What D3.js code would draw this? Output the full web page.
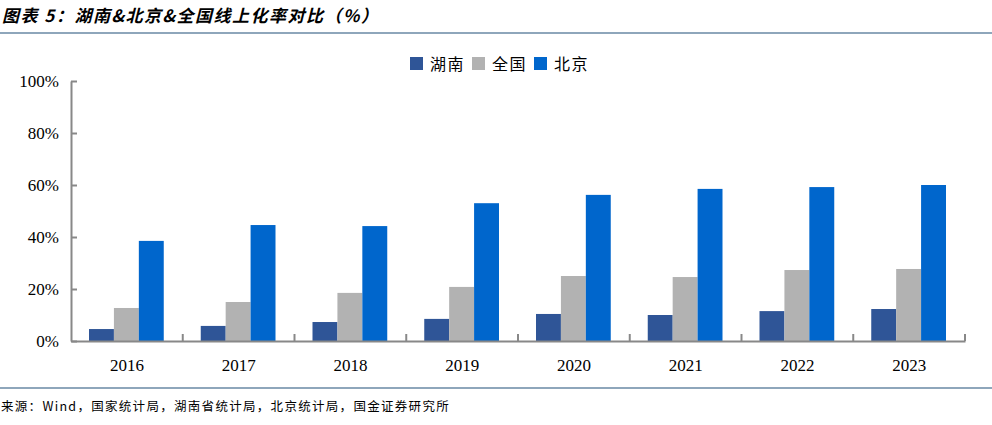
<!DOCTYPE html>
<html>
<head>
<meta charset="utf-8">
<script src="https://cdn.jsdelivr.net/npm/d3@7"></script>
<style>
  body { margin: 0; background: #fff; }
  svg { display: block; }
</style>
</head>
<body>
<div id="chart"></div>
<script>
const years = ["2016", "2017", "2018", "2019", "2020", "2021", "2022", "2023"];
const seriesNames = ["湖南", "全国", "北京"];
const hunan = [4.6, 5.8, 7.3, 8.5, 10.4, 10.0, 11.5, 12.3];
const national = [12.7, 15.0, 18.5, 20.8, 25.0, 24.6, 27.3, 27.7];
const beijing = [38.5, 44.6, 44.2, 53.0, 56.2, 58.5, 59.2, 60.0];
const yTicks = [0, 20, 40, 60, 80, 100];
const colors = ["#2F5597", "#B2B2B2", "#0066CC"];

const W = 992, H = 425;
const margin = { top: 81, right: 27, bottom: 84, left: 71 };
const width = W - margin.left - margin.right;
const height = H - margin.top - margin.bottom;

const svg = d3.select("#chart").append("svg").attr("width", W).attr("height", H);

// title
svg.append("text")
  .attr("x", 2).attr("y", 22)
  .attr("font-family", "Noto Sans CJK SC")
  .attr("font-size", 17).attr("font-weight", "bold").attr("font-style", "italic")
  .attr("letter-spacing", 1.5)
  .text("图表 5：湖南&北京&全国线上化率对比（%）");
svg.append("line").attr("x1", 0).attr("x2", W).attr("y1", 33).attr("y2", 33)
  .attr("stroke", "#1F4E79").attr("stroke-width", 1.2);

// source
svg.append("line").attr("x1", 0).attr("x2", W).attr("y1", 388).attr("y2", 388)
  .attr("stroke", "#1F4E79").attr("stroke-width", 1.2);
svg.append("text")
  .attr("x", 1).attr("y", 411)
  .attr("font-family", "Noto Sans CJK SC").attr("font-size", 12.5)
  .attr("letter-spacing", 1.3)
  .text("来源：Wind，国家统计局，湖南省统计局，北京统计局，国金证券研究所");

const g = svg.append("g").attr("transform", `translate(${margin.left},${margin.top})`);

const x0 = d3.scaleBand().domain(years).range([0, width]).paddingInner(0).paddingOuter(0);
const x1 = d3.scaleBand().domain(seriesNames).range([18, x0.bandwidth() - 19]).padding(0);
const y = d3.scaleLinear().domain([0, 100]).range([height, 0]);

const data = years.map((yr, i) => ({ year: yr, values: [hunan[i], national[i], beijing[i]] }));

g.selectAll(".grp").data(data).enter().append("g")
  .attr("transform", d => `translate(${x0(d.year)},0)`)
  .selectAll("rect")
  .data(d => d.values.map((v, k) => ({ name: seriesNames[k], v, k })))
  .enter().append("rect")
  .attr("x", d => x1(d.name))
  .attr("width", x1.bandwidth())
  .attr("y", d => y(d.v))
  .attr("height", d => height - y(d.v))
  .attr("fill", d => colors[d.k]);

// y axis
const yAxis = g.append("g")
  .call(d3.axisLeft(y).tickValues(yTicks).tickFormat(d => d + "%").tickSize(6).tickSizeOuter(0));
yAxis.select(".domain").attr("stroke", "#888").attr("stroke-width", 2);
yAxis.selectAll(".tick line").attr("stroke", "#888").attr("stroke-width", 2).attr("x1", 0).attr("x2", 6);
yAxis.selectAll(".tick text")
  .attr("x", -12)
  .attr("font-family", "Liberation Serif").attr("font-size", 17).attr("fill", "#000");

// x axis
const xAxis = g.append("g").attr("transform", `translate(0,${height})`)
  .call(d3.axisBottom(x0).tickSize(0).tickSizeOuter(0));
xAxis.select(".domain").attr("stroke", "#888").attr("stroke-width", 2);
xAxis.selectAll(".tick text")
  .attr("dy", 0).attr("y", 30)
  .attr("font-family", "Liberation Serif").attr("font-size", 17).attr("fill", "#000");
// boundary ticks between categories
g.append("g").selectAll("line")
  .data(years.slice(1).map(yr => x0(yr)).concat([width]))
  .enter().append("line")
  .attr("x1", d => d).attr("x2", d => d)
  .attr("y1", height).attr("y2", height - 7)
  .attr("stroke", "#888").attr("stroke-width", 2);

// legend
const legend = svg.append("g").attr("transform", "translate(410,64)");
const legendOffsets = [0, 62, 124];
seriesNames.forEach((n, k) => {
  const lg = legend.append("g").attr("transform", `translate(${legendOffsets[k]},0)`);
  lg.append("rect").attr("x", 0).attr("y", -7).attr("width", 13).attr("height", 13).attr("fill", colors[k]);
  lg.append("text").attr("x", 20).attr("y", 6)
    .attr("font-family", "Noto Sans CJK SC").attr("font-size", 16).attr("letter-spacing", 1.5)
    .text(n);
});
</script>
</body>
</html>
